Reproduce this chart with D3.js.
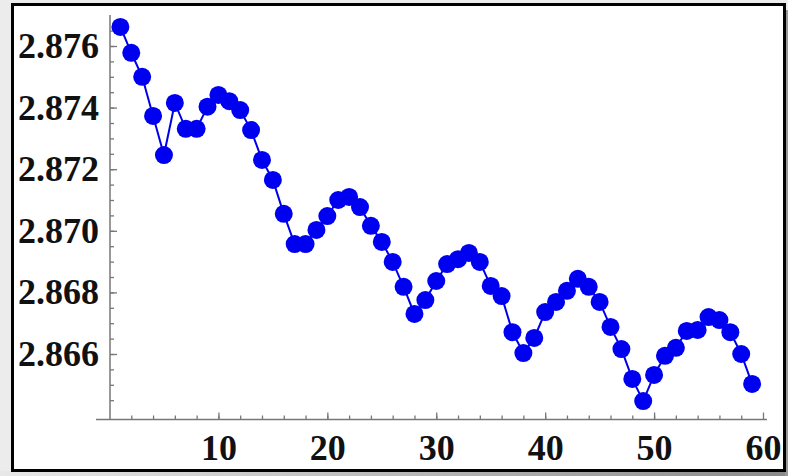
<!DOCTYPE html>
<html>
<head>
<meta charset="utf-8">
<script src="https://cdn.jsdelivr.net/npm/d3@7"></script>
<style>
body { margin: 0; background: #ececec; }
svg { display: block; }
</style>
</head>
<body>
<svg width="788" height="476"></svg>
<script>
var steps = d3.range(1, 60);
var values = [
	2.87662, 2.87578, 2.87500, 2.87373, 2.87246, 2.87415, 2.87331, 2.87331, 2.87403, 2.87441,
	2.87421, 2.87392, 2.87327, 2.87230, 2.87165, 2.87055, 2.86957, 2.86957, 2.87003, 2.87048,
	2.87100, 2.87110, 2.87077, 2.87016, 2.86964, 2.86899, 2.86818, 2.86730, 2.86775, 2.86837,
	2.86892, 2.86908, 2.86928, 2.86899, 2.86821, 2.86788, 2.86671, 2.86603, 2.86652, 2.86736,
	2.86769, 2.86805, 2.86844, 2.86818, 2.86769, 2.86688, 2.86616, 2.86519, 2.86447, 2.86532,
	2.86594, 2.86620, 2.86675, 2.86678, 2.86720, 2.86710, 2.86671, 2.86600, 2.86503
];
var xTicks = [10, 20, 30, 40, 50, 60];
var yTicks = [2.866, 2.868, 2.870, 2.872, 2.874, 2.876];

var svg = d3.select("svg");
var width = 788;
var height = 476;

// frame like a screenshot of a notebook cell
var shade = svg.append("defs").append("linearGradient").attr("id", "shade");
shade.append("stop").attr("offset", "0%").attr("stop-color", "#e8e8e8");
shade.append("stop").attr("offset", "100%").attr("stop-color", "#8a8a8a");
svg.append("rect").attr("x", 0).attr("y", 471).attr("width", width).attr("height", 5).attr("fill", "url(#shade)");
svg.append("rect").attr("x", 785).attr("y", 10).attr("width", 3).attr("height", 466).attr("fill", "#999");
svg.append("rect")
    .attr("x", 12.5).attr("y", 4.5)
    .attr("width", 772).attr("height", 466)
    .attr("fill", "white").attr("stroke", "black").attr("stroke-width", 3);

var x = d3.scaleLinear().domain([0, 60]).range([109.5, 763]);
var y = d3.scaleLinear().domain([2.866, 2.876]).range([354, 46]);
var axisY = 419.5;
var axisX = 110;
var axisColor = "#777";
var font = "'Liberation Serif', 'Times New Roman', serif";

function styleAxis(g) {
	g.selectAll("path, line").attr("stroke", axisColor).attr("stroke-width", 1.3);
	g.selectAll("text")
	    .attr("fill", "#111")
	    .attr("font-family", font)
	    .attr("font-weight", "bold")
	    .attr("font-size", 36);
}

// minor ticks
svg.append("g")
    .attr("transform", "translate(0," + axisY + ")")
    .call(d3.axisBottom(x).tickValues(d3.range(2, 60, 2)).tickSize(-4).tickFormat("").tickSizeOuter(0))
    .call(function (g) { g.select(".domain").remove(); })
    .call(styleAxis);
svg.append("g")
    .attr("transform", "translate(" + axisX + ",0)")
    .call(d3.axisLeft(y).tickValues(d3.range(2.8645, 2.8770, 0.0005)).tickSize(-4).tickFormat("").tickSizeOuter(0))
    .call(function (g) { g.select(".domain").remove(); })
    .call(styleAxis);

// major ticks and labels
svg.append("g")
    .attr("transform", "translate(0," + axisY + ")")
    .call(d3.axisBottom(x).tickValues(xTicks).tickSize(-7).tickPadding(15).tickSizeOuter(0))
    .call(function (g) { g.select(".domain").remove(); })
    .call(styleAxis);
svg.append("g")
    .attr("transform", "translate(" + axisX + ",0)")
    .call(d3.axisLeft(y).tickValues(yTicks).tickSize(-7).tickPadding(11).tickFormat(d3.format(".3f")).tickSizeOuter(0))
    .call(function (g) { g.select(".domain").remove(); })
    .call(styleAxis);

// axis lines
svg.append("line")
    .attr("x1", 96).attr("x2", 767).attr("y1", axisY).attr("y2", axisY)
    .attr("stroke", axisColor).attr("stroke-width", 1.5);
svg.append("line")
    .attr("x1", axisX).attr("x2", axisX).attr("y1", 15).attr("y2", axisY)
    .attr("stroke", axisColor).attr("stroke-width", 1.5);

var line = d3.line()
    .x(function (d, i) { return x(steps[i]); })
    .y(function (d) { return y(d); });

svg.append("path")
    .datum(values)
    .attr("d", line)
    .attr("fill", "none")
    .attr("stroke", "#0000e8")
    .attr("stroke-width", 2);

svg.selectAll(".pt")
    .data(values)
    .enter().append("circle")
    .attr("class", "pt")
    .attr("cx", function (d, i) { return x(steps[i]); })
    .attr("cy", function (d) { return y(d); })
    .attr("r", 9)
    .attr("fill", "#0000f0");
</script>
</body>
</html>
